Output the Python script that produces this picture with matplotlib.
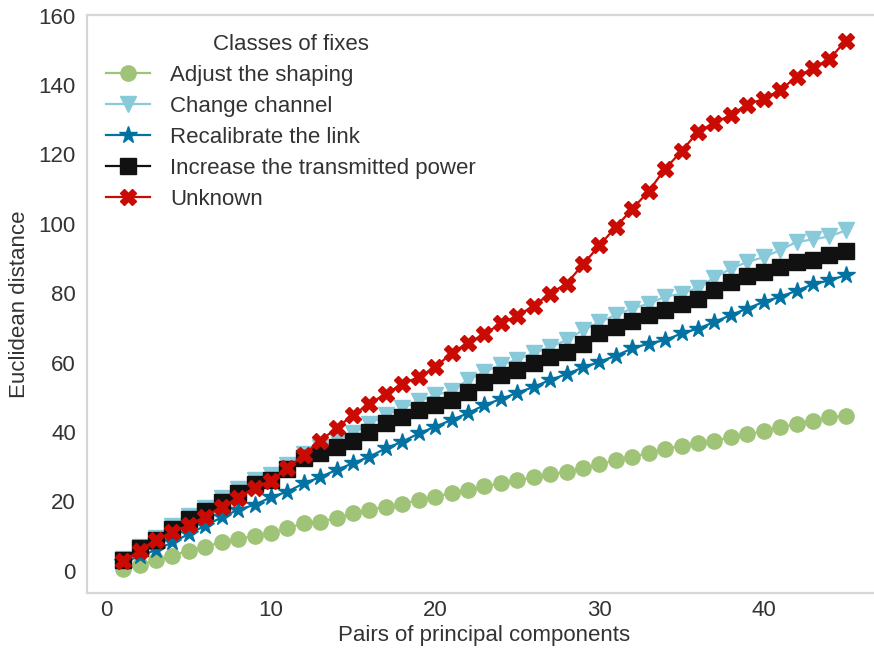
import matplotlib
matplotlib.use("Agg")
import matplotlib.pyplot as plt
import numpy as np

# Distance between class centroids for each number of principal-component pairs
pairs = np.arange(1, 46)

adjust_shaping = [0.5, 1.7, 3.0, 4.4, 5.8, 7.0, 8.2, 9.1, 10.1, 11.0,
                  12.3, 13.7, 14.2, 15.2, 16.6, 17.6, 18.5, 19.3, 20.4, 21.4,
                  22.4, 23.3, 24.3, 25.2, 26.2, 26.9, 27.8, 28.6, 29.6, 30.7,
                  31.9, 32.9, 33.9, 35.2, 36.0, 36.7, 37.5, 38.5, 39.3, 40.3,
                  41.4, 42.2, 43.3, 44.2, 44.7]

change_channel = [3.5, 6.9, 9.4, 12.9, 15.8, 18.0, 20.9, 23.6, 26.2, 27.5,
                  30.6, 33.8, 35.6, 37.8, 39.6, 42.3, 44.9, 46.8, 49.0, 50.6,
                  51.9, 55.0, 57.4, 59.3, 60.9, 62.8, 64.5, 66.5, 69.4, 71.7,
                  73.7, 75.6, 77.0, 79.0, 79.9, 81.6, 84.5, 87.1, 89.0, 90.4,
                  92.4, 94.8, 95.5, 96.4, 98.1]

recalibrate = [2.4, 4.2, 6.0, 8.2, 10.6, 13.0, 15.4, 17.6, 19.0, 21.2,
               22.8, 25.2, 27.0, 29.1, 31.0, 32.9, 35.3, 37.2, 39.6, 41.5,
               43.5, 45.4, 47.8, 49.5, 51.3, 53.0, 55.0, 56.7, 58.6, 60.2,
               62.0, 64.1, 65.5, 66.5, 68.4, 69.8, 71.7, 73.7, 75.6, 77.5,
               79.0, 80.7, 82.6, 83.7, 85.2]

increase_power = [3.2, 6.5, 8.9, 12.1, 14.9, 17.1, 19.9, 22.4, 24.9, 26.2,
                  29.3, 32.4, 33.9, 35.8, 37.5, 40.1, 42.7, 44.4, 46.3, 47.8,
                  49.2, 51.6, 54.5, 56.4, 58.0, 59.8, 61.5, 63.1, 65.5, 68.4,
                  70.2, 72.0, 73.7, 75.3, 77.0, 78.2, 80.9, 83.3, 84.9, 86.1,
                  87.6, 89.0, 89.5, 90.9, 92.2]

unknown = [2.7, 5.8, 8.9, 11.1, 13.2, 15.6, 18.5, 20.9, 24.0, 26.0,
           29.5, 33.4, 37.5, 41.1, 45.0, 48.1, 51.1, 53.8, 55.9, 58.6,
           62.8, 65.7, 68.2, 71.3, 73.5, 76.4, 79.9, 82.8, 88.3, 93.8,
           99.1, 104.3, 109.4, 115.9, 120.9, 126.6, 129.1, 131.4, 134.4, 136.0,
           138.6, 142.3, 144.9, 147.5, 152.8]

series = [
    ("Adjust the shaping", adjust_shaping, "#9fc377", "o"),
    ("Change channel", change_channel, "#88cada", "v"),
    ("Recalibrate the link", recalibrate, "#0272a2", "*"),
    ("Increase the transmitted power", increase_power, "#111111", "s"),
    ("Unknown", unknown, "#ca0b03", "X"),
]

plt.rcParams["font.family"] = ["Liberation Sans", "DejaVu Sans"]
TEXT = "#333333"
FS = 16

fig = plt.figure(figsize=(8.74, 6.52), dpi=100)
ax = fig.add_axes([0.0995, 0.0905, 0.9096, 0.8865])

for name, vals, color, marker in series:
    ms = 13 if marker == "*" else 11
    ax.plot(pairs, vals, color=color, marker=marker, markersize=ms,
            linewidth=1.6, label=name)

ax.set_xlim(-1.2, 47.2)
ax.set_ylim(-6.4, 160.2)
ax.set_xticks([0, 10, 20, 30, 40])
ax.set_yticks(range(0, 161, 20))
ax.tick_params(axis="y", length=0, labelsize=FS, labelcolor=TEXT, pad=8)
ax.tick_params(axis="x", length=0, labelsize=FS, labelcolor=TEXT, pad=5)

for spine in ax.spines.values():
    spine.set_color("#d6d6d6")
    spine.set_linewidth(1.6)

ax.set_xlabel("Pairs of principal components", fontsize=FS, color=TEXT,
              labelpad=3)
ax.set_ylabel("Euclidean distance", fontsize=FS, color=TEXT, labelpad=6)

leg = ax.legend(title="Classes of fixes", loc="upper left", frameon=False,
                fontsize=FS, title_fontsize=FS, handlelength=2.0,
                handletextpad=0.9, labelspacing=0.45, borderaxespad=0.55,
                borderpad=0.3)
for txt in leg.get_texts():
    txt.set_color(TEXT)
leg.get_title().set_color(TEXT)

fig.savefig("out.png", dpi=100)
